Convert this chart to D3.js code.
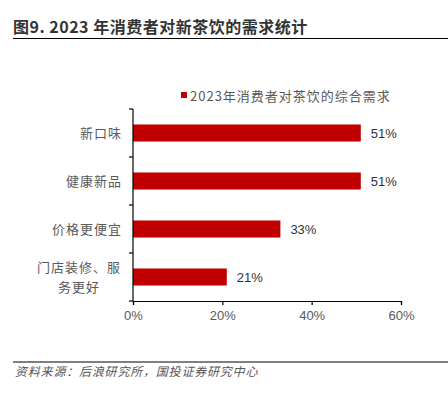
<!DOCTYPE html>
<html>
<head>
<meta charset="utf-8">
<script src="https://cdnjs.cloudflare.com/ajax/libs/d3/7.8.5/d3.min.js"></script>
<style>
  body { margin: 0; background: #fff; }
  svg { display: block; }
</style>
</head>
<body>
<div id="chart"></div>
<script>
// data
var categories = ['新口味', '健康新品', '价格更便宜', '门店装修、服务更好'];
var values = [51, 51, 33, 21];
var xTicks = [0, 20, 40, 60];
var seriesName = '2023年消费者对茶饮的综合需求';
var titleText = '图9. 2023 年消费者对新茶饮的需求统计';
var sourceText = '资料来源：后浪研究所，国投证券研究中心';

var width = 448, height = 399;
var cjk = '"Noto Sans CJK SC", "Noto Sans", sans-serif';
var narrow = '"Liberation Sans Narrow", "Liberation Sans", Arial, sans-serif';

var svg = d3.select('#chart').append('svg')
    .attr('width', width).attr('height', height);

// title + rule
svg.append('text')
    .attr('x', 13).attr('y', 33)
    .style('font-family', cjk).style('font-size', '16px').style('font-weight', 'bold')
    .style('letter-spacing', '0.5px')
    .attr('fill', '#333')
    .text(titleText);
svg.append('line').attr('x1', 13).attr('x2', 448).attr('y1', 38.5).attr('y2', 38.5)
    .attr('stroke', '#000').attr('stroke-width', 1.2);

var x = d3.scaleLinear().domain([0, 60]).range([133, 401]);
var y = d3.scaleBand().domain(categories).range([109, 301]).paddingInner(0.645).paddingOuter(0.3225);

// legend
svg.append('rect').attr('x', 181).attr('y', 92).attr('width', 6).attr('height', 6).attr('fill', '#C00000');
svg.append('text').attr('x', 190).attr('y', 100.5)
    .style('font-family', cjk).style('font-size', '13px').style('letter-spacing', '1px')
    .attr('fill', '#595959').text(seriesName);

// bars
svg.selectAll('.bar').data(values).enter().append('rect')
    .attr('class', 'bar')
    .attr('x', x(0))
    .attr('y', function (d, i) { return y(categories[i]); })
    .attr('width', function (d) { return x(d) - x(0); })
    .attr('height', y.bandwidth())
    .attr('fill', '#C00000');

// value labels
svg.selectAll('.val').data(values).enter().append('text')
    .attr('class', 'val')
    .attr('x', function (d) { return x(d) + 10; })
    .attr('y', function (d, i) { return y(categories[i]) + y.bandwidth() / 2; })
    .attr('dy', '0.35em')
    .style('font-family', narrow).style('font-size', '13px')
    .attr('fill', '#333')
    .text(function (d) { return d + '%'; });

// y axis with ticks between categories
var yAxis = svg.append('g').attr('transform', 'translate(133,0)');
yAxis.append('line').attr('x1', 0).attr('x2', 0).attr('y1', 109).attr('y2', 301)
    .attr('stroke', '#000').attr('stroke-width', 1.2);
var edges = d3.range(categories.length + 1).map(function (i) { return 109 + i * y.step(); });
yAxis.selectAll('.yt').data(edges).enter().append('line')
    .attr('x1', -4).attr('x2', 0)
    .attr('y1', function (d) { return d; }).attr('y2', function (d) { return d; })
    .attr('stroke', '#000').attr('stroke-width', 1.2);

// category labels
categories.forEach(function (c, i) {
    var cy = y(c) + y.bandwidth() / 2;
    var t = svg.append('text')
        .style('font-family', cjk).style('font-size', '13px').style('letter-spacing', '1px')
        .attr('fill', '#595959');
    if (c.length > 5) {
        var lines = ['门店装修、服', '务更好'];
        t.attr('text-anchor', 'middle');
        lines.forEach(function (l, k) {
            t.append('tspan').attr('x', 79).attr('y', cy - 10 + k * 20).attr('dy', '0.35em').text(l);
        });
    } else {
        t.attr('x', 122).attr('y', cy).attr('dy', '0.35em').attr('text-anchor', 'end').text(c);
    }
});

// x axis
var xAxis = svg.append('g').attr('transform', 'translate(0,301)')
    .call(d3.axisBottom(x).tickValues(xTicks).tickSize(4).tickPadding(6)
        .tickFormat(function (d) { return d + '%'; }));
xAxis.select('.domain').attr('stroke', '#000').attr('stroke-width', 1.2);
xAxis.selectAll('.tick line').attr('stroke', '#000').attr('stroke-width', 1.2);
xAxis.selectAll('.tick text')
    .style('font-family', narrow).style('font-size', '13px').attr('fill', '#595959');

// footer
svg.append('line').attr('x1', 13).attr('x2', 448).attr('y1', 362).attr('y2', 362)
    .attr('stroke', '#000').attr('stroke-width', 1);
svg.append('text').attr('x', 15).attr('y', 376)
    .style('font-family', cjk).style('font-size', '12px').style('font-style', 'italic')
    .style('letter-spacing', '0.8px')
    .attr('fill', '#555').text(sourceText);
</script>
</body>
</html>
